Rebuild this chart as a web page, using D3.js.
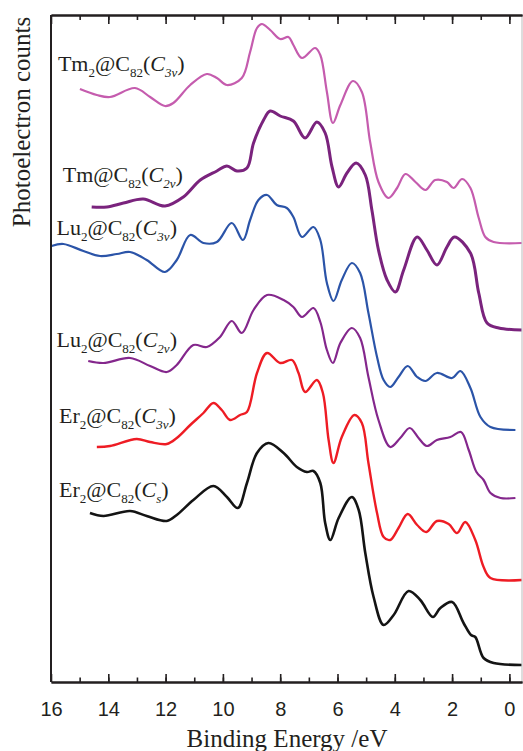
<!DOCTYPE html>
<html>
<head>
<meta charset="utf-8">
<script src="https://cdn.jsdelivr.net/npm/d3@7"></script>
<style>
  body { margin: 0; background: #fff; }
  svg { display: block; }
</style>
</head>
<body>
<svg width="523" height="751"></svg>
<script>
// binding energy (eV) / photoelectron counts (arb., offset included)
var tm2C3v = [[14.99,593],[14.40,587],[13.94,585],[13.07,594],[12.54,585],[12.02,576],[11.73,579],[11.14,597],[10.56,608],[10.21,604],[9.86,597],[9.34,604],[9.05,630],[8.81,654],[8.64,658],[8.35,652],[8.00,643],[7.71,645],[7.54,637],[7.24,624],[6.78,634],[6.60,627],[6.37,590],[6.16,559],[5.90,577],[5.46,601],[5.15,590],[4.86,540],[4.57,500],[4.22,484],[3.92,494],[3.63,508],[3.28,500],[2.93,492],[2.59,502],[2.18,500],[1.95,494],[1.65,503],[1.36,494],[1.07,464],[0.84,445],[0.55,440],[-0.43,439]];
var tmC2v = [[14.58,475],[14.05,475],[13.47,479],[12.78,483],[12.02,476],[11.38,485],[10.79,502],[10.21,511],[9.86,516],[9.51,511],[9.16,514],[8.93,539],[8.58,562],[8.35,571],[8.00,566],[7.54,561],[7.13,544],[6.72,560],[6.43,549],[6.19,515],[5.96,495],[5.67,509],[5.35,519],[5.03,507],[4.80,472],[4.57,432],[4.27,402],[3.98,390],[3.69,412],[3.22,445],[2.88,432],[2.53,417],[2.18,435],[1.92,445],[1.36,429],[1.07,389],[0.78,359],[0.37,354],[-0.43,352]];
var lu2C3v = [[15.98,436],[15.57,438],[14.87,431],[14.29,426],[13.70,428],[13.24,430],[12.66,422],[12.02,410],[11.61,422],[11.14,447],[10.68,439],[10.21,440],[9.69,459],[9.30,442],[9.05,462],[8.76,482],[8.46,487],[8.12,477],[7.77,474],[7.54,465],[7.24,445],[6.84,455],[6.60,442],[6.37,399],[6.14,381],[5.85,402],[5.50,419],[5.21,409],[4.92,369],[4.62,325],[4.39,302],[4.16,295],[3.87,305],[3.55,316],[3.22,305],[2.93,301],[2.53,309],[2.00,304],[1.71,311],[1.36,294],[1.01,265],[0.66,255],[-0.21,252]];
var lu2C2v = [[14.70,321],[14.17,319],[13.24,324],[12.54,316],[11.96,310],[11.61,317],[11.03,337],[10.56,335],[10.10,345],[9.69,361],[9.34,349],[8.93,372],[8.46,387],[7.88,382],[7.54,375],[7.24,365],[6.84,374],[6.60,360],[6.37,332],[6.16,319],[5.90,339],[5.50,354],[5.21,344],[4.92,305],[4.57,262],[4.16,235],[3.81,244],[3.48,254],[3.17,244],[2.88,236],[2.53,242],[2.06,245],[1.69,250],[1.42,232],[1.15,210],[0.90,202],[0.66,189],[0.31,184],[-0.21,184]];
var er2C3v = [[14.40,235],[13.94,236],[13.01,243],[12.54,240],[11.96,238],[11.61,244],[11.14,257],[10.68,269],[10.33,279],[10.04,272],[9.75,262],[9.40,267],[9.16,270],[8.81,309],[8.46,329],[8.00,319],[7.59,322],[7.36,309],[7.13,290],[6.72,302],[6.51,289],[6.31,242],[6.14,219],[5.85,245],[5.41,267],[5.15,259],[4.92,219],[4.62,169],[4.39,145],[4.16,142],[3.87,154],[3.55,168],[3.22,157],[2.90,150],[2.53,161],[2.12,158],[1.83,149],[1.54,160],[1.19,142],[0.90,115],[0.66,104],[-0.43,102]];
var er2Cs = [[14.64,169],[14.17,166],[13.24,171],[12.66,166],[11.96,161],[11.61,167],[11.03,182],[10.33,196],[9.86,185],[9.48,174],[9.16,199],[8.81,229],[8.41,239],[7.88,229],[7.42,215],[7.07,210],[6.84,211],[6.60,199],[6.43,159],[6.25,142],[5.96,164],[5.50,185],[5.26,172],[5.03,129],[4.74,85],[4.39,57],[4.04,67],[3.52,91],[3.11,82],[2.67,65],[2.41,74],[2.00,80],[1.60,59],[1.34,47],[1.19,45],[0.90,24],[0.55,19],[-0.43,17]];

var seriesData = [tm2C3v, tmC2v, lu2C3v, lu2C2v, er2C3v, er2Cs];
var seriesColors = ["#c55cae", "#7a237d", "#2b54a8", "#84278c", "#ee1c24", "#141414"];
var seriesWidths = [2.2, 3, 2.2, 2.2, 2.4, 2.6];

// label pieces: [text, subscript, italic]
var seriesLabels = [
    [["Tm",0,0],["2",1,0],["@C",0,0],["82",1,0],["(",0,0],["C",0,1],["3v",1,1],[")",0,0]],
    [["Tm@C",0,0],["82",1,0],["(",0,0],["C",0,1],["2v",1,1],[")",0,0]],
    [["Lu",0,0],["2",1,0],["@C",0,0],["82",1,0],["(",0,0],["C",0,1],["3v",1,1],[")",0,0]],
    [["Lu",0,0],["2",1,0],["@C",0,0],["82",1,0],["(",0,0],["C",0,1],["2v",1,1],[")",0,0]],
    [["Er",0,0],["2",1,0],["@C",0,0],["82",1,0],["(",0,0],["C",0,1],["3v",1,1],[")",0,0]],
    [["Er",0,0],["2",1,0],["@C",0,0],["82",1,0],["(",0,0],["C",0,1],["s",1,1],[")",0,0]]
];
// label anchor in data units [energy, counts]
var labelAnchors = [[15.76,611],[15.59,500],[15.81,447],[15.81,335],[15.72,259],[15.72,185]];

var xTicks = [16, 14, 12, 10, 8, 6, 4, 2, 0];
var xMinorTicks = d3.range(15, -1, -1);

var plotLeft = 51, plotRight = 522, plotTop = 15, plotBottom = 682;

var x = d3.scaleLinear([16, -0.44], [plotLeft, plotRight]);
var y = d3.scaleLinear([0, 667], [plotBottom, plotTop]);

var svg = d3.select("svg");

// Curves
var line = d3.line()
    .x(function(d) { return x(d[0]); })
    .y(function(d) { return y(d[1]); })
    .curve(d3.curveCatmullRom.alpha(0.5));

svg.append("g")
    .selectAll("path")
    .data(seriesData)
    .enter()
        .append("path")
        .attr("d", line)
        .attr("fill", "none")
        .attr("stroke", function(d, i) { return seriesColors[i]; })
        .attr("stroke-width", function(d, i) { return seriesWidths[i]; })
        .attr("stroke-linejoin", "round");

// Labels
var labels = svg.append("g")
    .attr("font-family", "'Liberation Serif', 'Times New Roman', serif")
    .attr("fill", "#231f20")
    .selectAll("text")
    .data(seriesLabels)
    .enter()
        .append("text")
        .attr("x", function(d, i) { return x(labelAnchors[i][0]); })
        .attr("y", function(d, i) { return y(labelAnchors[i][1]); })
        .attr("font-size", 22);

labels.each(function(parts) {
    var t = d3.select(this);
    var shifted = false;
    parts.forEach(function(p) {
        var span = t.append("tspan").text(p[0]);
        if (p[1]) {
            span.attr("font-size", 13).attr("dy", shifted ? 0 : 6);
            shifted = true;
        } else {
            if (shifted) span.attr("dy", -6);
            shifted = false;
        }
        if (p[2]) span.attr("font-style", "italic");
    });
});

// Frame
svg.append("line")
    .attr("x1", plotRight).attr("x2", plotRight)
    .attr("y1", plotTop).attr("y2", plotBottom)
    .attr("stroke", "#bbb").attr("stroke-width", 1);

var bottomAxis = d3.axisBottom(x).tickValues(xTicks).tickSizeInner(-8).tickSizeOuter(0).tickPadding(20).tickFormat(d3.format("d"));
var bottomMinor = d3.axisBottom(x).tickValues(xMinorTicks).tickSizeInner(-4.5).tickSizeOuter(0).tickFormat("");
var topAxis = d3.axisTop(x).tickValues(xTicks).tickSizeInner(-9).tickSizeOuter(0).tickFormat("");
var topMinor = d3.axisTop(x).tickValues(xMinorTicks).tickSizeInner(-5).tickSizeOuter(0).tickFormat("");

svg.append("g").attr("transform", "translate(0," + plotBottom + ")").call(bottomMinor);
svg.append("g").attr("transform", "translate(0," + plotBottom + ")").attr("id", "xAxis").call(bottomAxis);
svg.append("g").attr("transform", "translate(0," + plotTop + ")").call(topMinor);
svg.append("g").attr("transform", "translate(0," + plotTop + ")").call(topAxis);

svg.selectAll(".domain").attr("stroke", "#231f20").attr("stroke-width", 2);
svg.selectAll(".tick line").attr("stroke", "#231f20").attr("stroke-width", 1.6);
svg.select("#xAxis").selectAll("text")
    .attr("font-family", "'Liberation Sans', Arial, sans-serif")
    .attr("font-size", 20)
    .attr("fill", "#231f20");

svg.append("line")
    .attr("x1", plotLeft).attr("x2", plotLeft)
    .attr("y1", plotTop).attr("y2", plotBottom)
    .attr("stroke", "#231f20").attr("stroke-width", 2);

// Axis titles
svg.append("text")
    .attr("x", 287)
    .attr("y", 747)
    .attr("text-anchor", "middle")
    .attr("font-family", "'Liberation Serif', 'Times New Roman', serif")
    .attr("font-size", 25)
    .attr("fill", "#231f20")
    .text("Binding Energy /eV");

svg.append("text")
    .attr("transform", "translate(30, 122) rotate(-90)")
    .attr("text-anchor", "middle")
    .attr("font-family", "'Liberation Serif', 'Times New Roman', serif")
    .attr("font-size", 25)
    .attr("fill", "#231f20")
    .text("Photoelectron counts");
</script>
</body>
</html>
